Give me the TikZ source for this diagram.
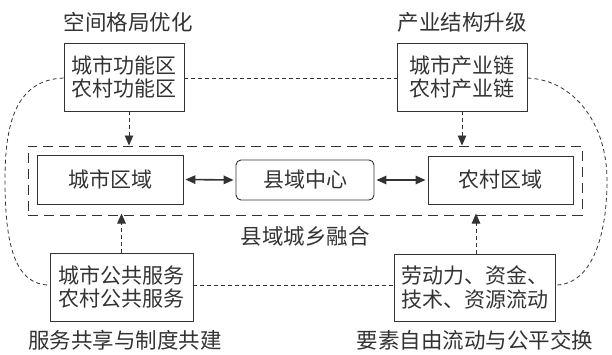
\documentclass[tikz,border=0pt]{standalone}
\usepackage{fontspec}
\setmainfont{Noto Sans CJK SC}
\usetikzlibrary{arrows.meta}
\definecolor{ink}{HTML}{333333}
\tikzset{
  box/.style={draw=ink, line width=0.9pt, text=ink, align=center, inner sep=0pt,
    font=\fontsize{21}{23.5}\selectfont},
  lbl/.style={text=ink, inner sep=0pt, font=\fontsize{21.5}{24}\selectfont},
  loop/.style={draw=ink, line width=0.8pt, dash pattern=on 4pt off 3pt},
  feed/.style={draw=ink, line width=0.9pt, dash pattern=on 4pt off 3pt,
    -{Triangle[length=10pt,width=8.5pt]}},
  link/.style={draw=ink, line width=1.6pt, {Triangle[length=10pt,width=8.5pt]}-{Triangle[length=10pt,width=8.5pt]}}
}
\begin{document}
\begin{tikzpicture}[x=1pt,y=-1pt]
\useasboundingbox (0,0) rectangle (612,354);
% frame
\node[draw=ink, line width=1pt, dash pattern=on 10pt off 6pt, minimum width=554pt, minimum height=69pt, inner sep=0pt] (frame) at (305,180.5) {};
% inner boxes
\node[box, minimum width=146pt, minimum height=49pt] (city) at (110,179.5) {城市区域};
\node[box, rounded corners=5pt, minimum width=138pt, minimum height=40pt] (core) at (305,180) {县域中心};
\node[box, minimum width=145pt, minimum height=48pt] (rural) at (500.5,180) {农村区域};
\node[lbl] (flab) at (305,236) {县域城乡融合};
% outer boxes
\node[box, minimum width=120pt, minimum height=68pt] (tl) at (124,77) {城市功能区\\农村功能区};
\node[box, minimum width=130pt, minimum height=68pt] (tr) at (462,77) {城市产业链\\农村产业链};
\node[box, minimum width=143pt, minimum height=68pt] (bl) at (121.5,287) {城市公共服务\\农村公共服务};
\node[box, minimum width=161pt, minimum height=67pt] (br) at (474.5,287.5) {劳动力、资金、\\技术、资源流动};
% titles
\node[lbl] (tlt) at (128,22) {空间格局优化};
\node[lbl] (trt) at (462,22) {产业结构升级};
\node[lbl] (blt) at (125,340) {服务共享与制度共建};
\node[lbl] (brt) at (475,340) {要素自由流动与公平交换};
% links
\draw[link] ([xshift=2pt]city.east) -- ([xshift=-2pt]core.west);
\draw[link] ([xshift=2pt]core.east) -- ([xshift=-2pt]rural.west);
% feeds
\draw[feed] ([xshift=5pt]tl.south) -- ([xshift=5pt]tl.south |- frame.north);
\draw[feed] (tr.south) -- (tr.south |- frame.north);
\draw[feed] (bl.north) -- ([yshift=2pt]bl.north |- frame.south);
\draw[feed] ([xshift=1.5pt]br.north) -- ([xshift=1.5pt,yshift=2pt]br.north |- frame.south);
% loop
\coordinate (tlw) at (tl.west |- 0,78);
\coordinate (tle) at (tl.east |- 0,78);
\coordinate (trw) at (tr.west |- 0,78);
\coordinate (tre) at (tr.east |- 0,78);
\coordinate (blw) at (bl.west |- 0,285);
\coordinate (ble) at (bl.east |- 0,285);
\coordinate (brw) at (br.west |- 0,285);
\coordinate (bre) at (br.east |- 0,285);
\draw[loop] (tle) -- (trw);
\draw[loop] (ble) -- (brw);
\draw[loop] (tlw) .. controls (15,80) and (5,125) .. (5,180) .. controls (5,245) and (15,285) .. (blw);
\draw[loop] (tre) .. controls (575,80) and (607,125) .. (607,180) .. controls (607,240) and (590,285) .. (bre);
\end{tikzpicture}
\end{document}
